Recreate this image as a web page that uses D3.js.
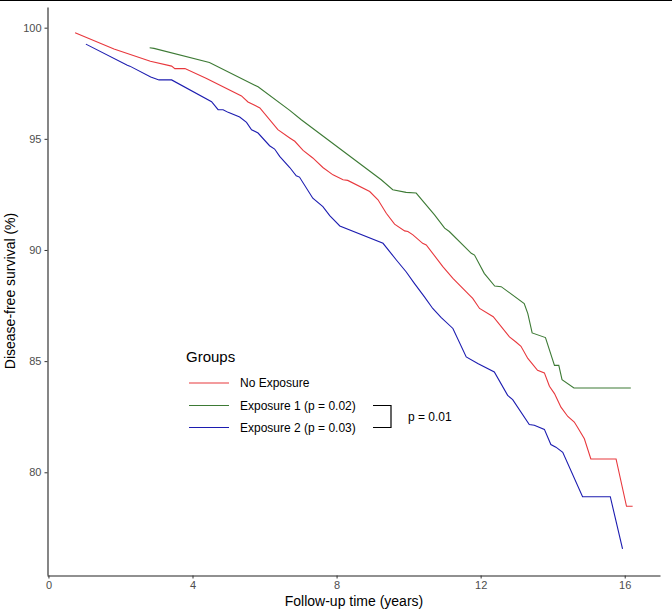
<!DOCTYPE html>
<html>
<head>
<meta charset="utf-8">
<script src="https://cdn.jsdelivr.net/npm/d3@7"></script>
<style>
  body { margin: 0; background: #fff; }
  text { font-family: "Liberation Sans", Arial, sans-serif; }
</style>
</head>
<body>
<div id="chart"></div>
<script>
// survival curves: [years, percent]
const noExposure = [
    [0.74, 99.77], [1.82, 99.04], [2.83, 98.49], [3.42, 98.27], [3.51, 98.16], [3.79, 98.16],
    [4.39, 97.71], [5.36, 96.93], [5.54, 96.66], [5.87, 96.39], [6.37, 95.41], [6.70, 95.04],
    [6.84, 94.89], [7.07, 94.48], [7.34, 94.14], [7.62, 93.71], [7.90, 93.38], [8.18, 93.16],
    [8.31, 93.13], [8.92, 92.63], [9.15, 92.26], [9.38, 91.65], [9.61, 91.16], [9.89, 90.86],
    [9.98, 90.83], [10.12, 90.68], [10.39, 90.30], [10.49, 90.23], [10.95, 89.25], [11.23, 88.72],
    [11.69, 87.97], [11.78, 87.82], [11.97, 87.37], [12.35, 87.00], [12.80, 86.09], [12.98, 85.86],
    [13.12, 85.67], [13.31, 85.12], [13.58, 84.59], [13.77, 84.47], [13.91, 83.87], [14.05, 83.54],
    [14.23, 82.93], [14.42, 82.51], [14.60, 82.26], [14.69, 82.03], [14.88, 81.51], [15.06, 80.60],
    [15.76, 80.60], [16.05, 78.47], [16.22, 78.47]
];
const exposure1 = [
    [2.81, 99.10], [2.93, 99.07], [4.47, 98.43], [5.82, 97.34], [6.70, 96.28], [7.02, 95.86],
    [9.24, 93.16], [9.56, 92.71], [9.93, 92.59], [10.21, 92.56], [10.72, 91.58], [11.00, 90.98],
    [11.13, 90.83], [11.74, 89.85], [11.83, 89.77], [12.10, 88.95], [12.39, 88.38], [12.57, 88.35],
    [13.21, 87.59], [13.31, 87.14], [13.43, 86.27], [13.80, 86.06], [14.05, 84.81], [14.17, 84.81],
    [14.26, 84.17], [14.59, 83.79], [16.17, 83.79]
];
const exposure2 = [
    [1.04, 99.26], [2.19, 98.31], [2.26, 98.27], [2.84, 97.78], [3.07, 97.65], [3.42, 97.65],
    [4.53, 96.67], [4.71, 96.31], [4.85, 96.31], [4.99, 96.19], [5.31, 95.98], [5.50, 95.74],
    [5.64, 95.41], [5.82, 95.26], [6.14, 94.69], [6.28, 94.54], [6.42, 94.21], [6.70, 93.71],
    [6.88, 93.34], [6.97, 93.28], [7.34, 92.33], [7.62, 91.95], [7.81, 91.55], [8.09, 91.08],
    [9.29, 90.30], [9.66, 89.55], [9.93, 89.02], [10.16, 88.50], [10.44, 87.89], [10.67, 87.37],
    [10.90, 86.97], [11.23, 86.47], [11.60, 85.19], [11.92, 84.89], [12.38, 84.51], [12.75, 83.46],
    [12.89, 83.27], [13.35, 82.15], [13.49, 82.12], [13.77, 81.93], [13.95, 81.25], [14.09, 81.13],
    [14.28, 80.90], [14.83, 78.90], [15.60, 78.90], [15.94, 76.55]
];

const groupNames = ["No Exposure", "Exposure 1 (p = 0.02)", "Exposure 2 (p = 0.03)"];
const groupColors = ["#e8383d", "#3d7a35", "#1c1cb0"];
const xTicks = [0, 4, 8, 12, 16];
const yTicks = [80, 85, 90, 95, 100];
const bracketLabel = "p = 0.01";

const width = 672, height = 616;

const svg = d3.select("#chart").append("svg")
    .attr("width", width)
    .attr("height", height);

// thin dark border along the top of the picture
svg.append("rect")
    .attr("x", 0).attr("y", 0)
    .attr("width", width).attr("height", 1)
    .attr("fill", "#000");

const x = d3.scaleLinear().domain([-0.04, 16.98]).range([47, 660]);
const y = d3.scaleLinear().domain([75.38, 100.93]).range([575, 7]);

const xAxis = d3.axisBottom(x).tickValues(xTicks).tickSize(3).tickPadding(3).tickSizeOuter(0);
const yAxis = d3.axisLeft(y).tickValues(yTicks).tickSize(3).tickPadding(3).tickSizeOuter(0);

const gx = svg.append("g")
    .attr("class", "x-axis")
    .attr("transform", `translate(0, 575.5)`)
    .call(xAxis);

const gy = svg.append("g")
    .attr("class", "y-axis")
    .attr("transform", `translate(47.5, 0)`)
    .call(yAxis);

[gx, gy].forEach(g => {
    g.select(".domain").attr("stroke", "#222").attr("stroke-width", 1.1);
    g.selectAll(".tick line").attr("stroke", "#333");
    g.selectAll(".tick text")
        .attr("fill", "#4d4d4d")
        .style("font-size", "11px")
        .style("font-family", "'Liberation Sans', Arial, sans-serif");
});

// axis titles
svg.append("text")
    .attr("x", 354)
    .attr("y", 606)
    .attr("text-anchor", "middle")
    .style("font-size", "14px")
    .attr("fill", "#000")
    .text("Follow-up time (years)");

svg.append("text")
    .attr("transform", `translate(15, 291) rotate(-90)`)
    .attr("text-anchor", "middle")
    .style("font-size", "14px")
    .attr("fill", "#000")
    .text("Disease-free survival (%)");

// curves
const line = d3.line()
    .x(d => x(d[0]))
    .y(d => y(d[1]));

[noExposure, exposure1, exposure2].forEach((series, i) => {
    svg.append("path")
        .datum(series)
        .attr("fill", "none")
        .attr("stroke", groupColors[i])
        .attr("stroke-width", 1.1)
        .attr("d", line);
});

// legend
const legend = svg.append("g")
    .attr("transform", "translate(186, 0)");

legend.append("text")
    .attr("x", 0)
    .attr("y", 362)
    .style("font-size", "15px")
    .attr("fill", "#000")
    .text("Groups");

const rowY = [383, 405.5, 427.5];
groupNames.forEach((name, i) => {
    legend.append("line")
        .attr("x1", 3).attr("x2", 43)
        .attr("y1", rowY[i]).attr("y2", rowY[i])
        .attr("stroke", groupColors[i])
        .attr("stroke-width", 1.1);
    legend.append("text")
        .attr("x", 54)
        .attr("y", rowY[i] + 4)
        .style("font-size", "12px")
        .attr("fill", "#000")
        .text(name);
});

// bracket between the two exposure groups
svg.append("path")
    .attr("d", `M373,${rowY[1]} H391 V${rowY[2]} H373`)
    .attr("fill", "none")
    .attr("stroke", "#000")
    .attr("stroke-width", 1.2);

svg.append("text")
    .attr("x", 408)
    .attr("y", 421)
    .style("font-size", "12px")
    .attr("fill", "#000")
    .text(bracketLabel);
</script>
</body>
</html>
